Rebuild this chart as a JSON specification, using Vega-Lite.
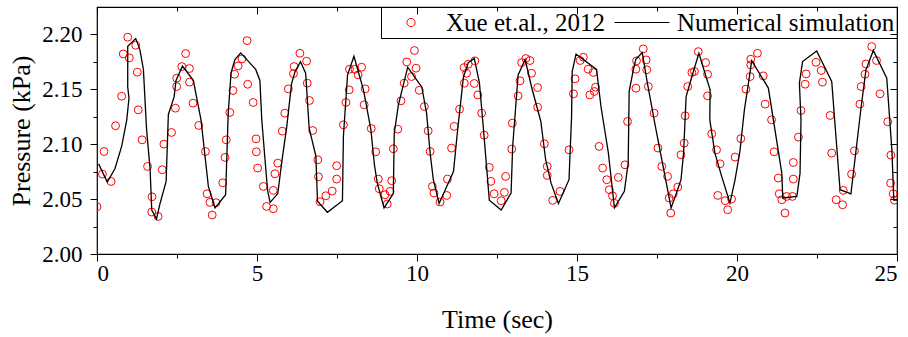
{
  "$schema": "https://vega.github.io/schema/vega-lite/v6.json",
  "autosize": "none",
  "width": 800,
  "height": 247,
  "padding": {"left": 97, "top": 7, "right": 11, "bottom": 83},
  "background": "white",
  "datasets": {
    "exp": [
      {"t":0.0,"p":2.043},{"t":0.17,"p":2.0727},{"t":0.22,"p":2.0933},{"t":0.44,"p":2.066},{"t":0.58,"p":2.1167},{"t":0.77,"p":2.1436},{"t":0.82,"p":2.1821},{"t":0.96,"p":2.1973},{"t":1.01,"p":2.1785},{"t":1.21,"p":2.19},{"t":1.26,"p":2.1655},{"t":1.29,"p":2.1312},{"t":1.41,"p":2.1039},{"t":1.58,"p":2.0797},{"t":1.71,"p":2.0382},{"t":1.72,"p":2.0521},{"t":1.91,"p":2.0342},{"t":2.04,"p":2.0767},{"t":2.09,"p":2.1},{"t":2.33,"p":2.1106},{"t":2.45,"p":2.1327},{"t":2.49,"p":2.1524},{"t":2.49,"p":2.16},{"t":2.65,"p":2.1706},{"t":2.77,"p":2.1824},{"t":2.89,"p":2.1688},{"t":2.89,"p":2.1564},{"t":3.0,"p":2.1373},{"t":3.18,"p":2.117},{"t":3.39,"p":2.0933},{"t":3.44,"p":2.0548},{"t":3.53,"p":2.047},{"t":3.6,"p":2.0355},{"t":3.72,"p":2.0467},{"t":3.93,"p":2.0648},{"t":4.0,"p":2.0879},{"t":4.04,"p":2.1039},{"t":4.15,"p":2.1288},{"t":4.25,"p":2.1488},{"t":4.3,"p":2.1636},{"t":4.41,"p":2.1712},{"t":4.53,"p":2.1776},{"t":4.69,"p":2.1942},{"t":4.71,"p":2.1545},{"t":4.88,"p":2.1379},{"t":4.97,"p":2.1048},{"t":4.98,"p":2.093},{"t":5.02,"p":2.0782},
      {"t":5.2,"p":2.0615},{"t":5.3,"p":2.0433},{"t":5.51,"p":2.0412},{"t":5.51,"p":2.0579},{"t":5.56,"p":2.073},{"t":5.65,"p":2.0827},{"t":5.79,"p":2.1118},{"t":5.87,"p":2.1282},{"t":5.98,"p":2.1503},{"t":6.14,"p":2.1642},{"t":6.16,"p":2.1706},{"t":6.34,"p":2.1827},{"t":6.55,"p":2.1755},{"t":6.57,"p":2.1555},{"t":6.64,"p":2.1397},{"t":6.74,"p":2.1124},{"t":6.9,"p":2.0858},{"t":6.92,"p":2.0703},{"t":6.97,"p":2.0476},{"t":7.15,"p":2.053},{"t":7.35,"p":2.0573},{"t":7.49,"p":2.0682},{"t":7.49,"p":2.0803},{"t":7.7,"p":2.1176},{"t":7.78,"p":2.1379},{"t":7.88,"p":2.1494},{"t":7.89,"p":2.1682},{"t":8.06,"p":2.1682},{"t":8.16,"p":2.163},{"t":8.27,"p":2.17},{"t":8.35,"p":2.1358},{"t":8.38,"p":2.1503},{"t":8.57,"p":2.1142},{"t":8.71,"p":2.093},{"t":8.79,"p":2.0682},{"t":8.82,"p":2.0594},{"t":9.0,"p":2.0539},{"t":9.07,"p":2.0455},{"t":9.16,"p":2.057},{"t":9.21,"p":2.0667},{"t":9.26,"p":2.0958},{"t":9.4,"p":2.1136},{"t":9.5,"p":2.1394},{"t":9.6,"p":2.1555},{"t":9.68,"p":2.1748},{"t":9.83,"p":2.1615},{"t":9.92,"p":2.1852},{"t":9.97,"p":2.1691},{"t":10.07,"p":2.149},
      {"t":10.23,"p":2.1342},{"t":10.35,"p":2.1121},{"t":10.41,"p":2.0933},{"t":10.48,"p":2.0615},{"t":10.53,"p":2.0555},{"t":10.72,"p":2.0473},{"t":10.93,"p":2.0533},{"t":10.95,"p":2.0682},{"t":11.08,"p":2.0964},{"t":11.16,"p":2.1161},{"t":11.33,"p":2.1318},{"t":11.47,"p":2.1697},{"t":11.48,"p":2.1555},{"t":11.55,"p":2.1645},{"t":11.6,"p":2.1727},{"t":11.79,"p":2.1552},{"t":11.81,"p":2.1758},{"t":11.9,"p":2.1448},{"t":12.02,"p":2.1282},{"t":12.1,"p":2.1082},{"t":12.26,"p":2.0788},{"t":12.31,"p":2.0661},{"t":12.41,"p":2.0548},{"t":12.63,"p":2.0485},{"t":12.73,"p":2.0561},{"t":12.77,"p":2.0706},{"t":12.96,"p":2.0955},{"t":12.98,"p":2.1191},{"t":13.16,"p":2.1439},{"t":13.22,"p":2.1576},{"t":13.27,"p":2.1742},{"t":13.4,"p":2.1779},{"t":13.53,"p":2.1761},{"t":13.58,"p":2.1645},{"t":13.77,"p":2.1515},{"t":13.77,"p":2.1336},{"t":13.98,"p":2.1003},{"t":14.07,"p":2.0797},{"t":14.07,"p":2.0715},{"t":14.24,"p":2.0488},{"t":14.47,"p":2.057},{"t":14.75,"p":2.0948},{"t":14.89,"p":2.1458},{"t":14.94,"p":2.1594},
      {"t":15.1,"p":2.1761},{"t":15.2,"p":2.1791},{"t":15.35,"p":2.1682},{"t":15.4,"p":2.1448},{"t":15.51,"p":2.1652},{"t":15.54,"p":2.1479},{"t":15.58,"p":2.1518},{"t":15.69,"p":2.0979},{"t":15.8,"p":2.0782},{"t":15.93,"p":2.0676},{"t":16.01,"p":2.0585},{"t":16.11,"p":2.053},{"t":16.17,"p":2.0461},{"t":16.29,"p":2.0697},{"t":16.5,"p":2.0812},{"t":16.58,"p":2.1206},{"t":16.84,"p":2.1509},{"t":16.84,"p":2.1682},{"t":16.86,"p":2.1758},{"t":17.07,"p":2.1867},{"t":17.16,"p":2.1767},{"t":17.18,"p":2.1676},{"t":17.23,"p":2.1524},{"t":17.41,"p":2.1282},{"t":17.53,"p":2.0964},{"t":17.65,"p":2.0797},{"t":17.83,"p":2.0706},{"t":17.88,"p":2.0509},{"t":17.93,"p":2.0373},{"t":18.01,"p":2.0548},{"t":18.15,"p":2.0609},{"t":18.25,"p":2.0903},{"t":18.35,"p":2.1009},{"t":18.38,"p":2.1258},{"t":18.46,"p":2.1524},{"t":18.59,"p":2.1652},{"t":18.67,"p":2.1661},{"t":18.79,"p":2.1842},{"t":19.02,"p":2.1742},{"t":19.08,"p":2.1636},{"t":19.08,"p":2.1439},{"t":19.21,"p":2.1094},{"t":19.36,"p":2.0948},{"t":19.4,"p":2.0533},{"t":19.47,"p":2.0821},{"t":19.63,"p":2.0485},{"t":19.71,"p":2.0403},{"t":19.83,"p":2.05},{"t":19.94,"p":2.0882},
      {"t":20.12,"p":2.105},{"t":20.28,"p":2.15},{"t":20.41,"p":2.1615},{"t":20.43,"p":2.1721},{"t":20.43,"p":2.1773},{"t":20.64,"p":2.1827},{"t":20.82,"p":2.1621},{"t":20.88,"p":2.1364},{"t":21.08,"p":2.1221},{"t":21.16,"p":2.093},{"t":21.29,"p":2.0691},{"t":21.32,"p":2.0548},{"t":21.4,"p":2.0494},{"t":21.5,"p":2.0373},{"t":21.55,"p":2.0524},{"t":21.73,"p":2.0524},{"t":21.76,"p":2.0682},{"t":21.76,"p":2.0833},{"t":21.92,"p":2.1064},{"t":22.0,"p":2.1306},{"t":22.13,"p":2.1545},{"t":22.16,"p":2.1639},{"t":22.47,"p":2.1745},{"t":22.63,"p":2.167},{"t":22.67,"p":2.1564},{"t":22.91,"p":2.1261},{"t":22.96,"p":2.0918},{"t":23.1,"p":2.0494},{"t":23.3,"p":2.0448},{"t":23.32,"p":2.0579},{"t":23.58,"p":2.0727},{"t":23.67,"p":2.0939},{"t":23.84,"p":2.1364},{"t":23.88,"p":2.1524},{"t":24.0,"p":2.1636},{"t":24.03,"p":2.173},{"t":24.21,"p":2.1888},{"t":24.36,"p":2.1761},{"t":24.47,"p":2.1458},{"t":24.71,"p":2.1203},{"t":24.8,"p":2.0645},{"t":24.81,"p":2.09},{"t":24.88,"p":2.0548},{"t":24.92,"p":2.049}
    ],
    "sim": [
      {"t":0.05,"p":2.082},{"t":0.32,"p":2.0655},{"t":0.56,"p":2.0776},{"t":0.77,"p":2.098},{"t":0.93,"p":2.122},{"t":1.0,"p":2.142},{"t":0.96,"p":2.152},{"t":0.96,"p":2.189},{"t":1.21,"p":2.196},{"t":1.34,"p":2.186},{"t":1.45,"p":2.168},{"t":1.55,"p":2.113},{"t":1.66,"p":2.077},{"t":1.71,"p":2.04},{"t":1.86,"p":2.032},{"t":1.97,"p":2.046},{"t":2.16,"p":2.066},{"t":2.23,"p":2.127},{"t":2.41,"p":2.143},{"t":2.47,"p":2.158},{"t":2.67,"p":2.171},{"t":3.01,"p":2.158},{"t":3.25,"p":2.122},{"t":3.48,"p":2.0615},{"t":3.69,"p":2.042},{"t":4.02,"p":2.054},{"t":4.1,"p":2.128},{"t":4.19,"p":2.165},{"t":4.31,"p":2.177},{"t":4.49,"p":2.183},{"t":4.96,"p":2.168},
      {"t":5.09,"p":2.158},{"t":5.15,"p":2.122},{"t":5.25,"p":2.086},{"t":5.33,"p":2.058},{"t":5.41,"p":2.047},{"t":5.65,"p":2.055},{"t":5.77,"p":2.083},{"t":5.93,"p":2.116},{"t":6.08,"p":2.155},{"t":6.19,"p":2.166},{"t":6.36,"p":2.175},{"t":6.52,"p":2.1645},{"t":6.63,"p":2.1145},{"t":6.84,"p":2.089},{"t":6.89,"p":2.048},{"t":7.2,"p":2.038},{"t":7.67,"p":2.0485},{"t":7.7,"p":2.107},{"t":7.83,"p":2.163},{"t":8.03,"p":2.18},{"t":8.33,"p":2.149},{"t":8.56,"p":2.113},{"t":8.67,"p":2.081},{"t":8.76,"p":2.0645},{"t":8.97,"p":2.042},{"t":9.26,"p":2.055},{"t":9.29,"p":2.11},{"t":9.42,"p":2.136},{"t":9.71,"p":2.17},{"t":10.0,"p":2.158},
      {"t":10.15,"p":2.152},{"t":10.3,"p":2.128},{"t":10.41,"p":2.092},{"t":10.51,"p":2.0676},{"t":10.69,"p":2.046},{"t":10.93,"p":2.0615},{"t":11.14,"p":2.075},{"t":11.27,"p":2.113},{"t":11.45,"p":2.161},{"t":11.6,"p":2.174},{"t":11.79,"p":2.178},{"t":11.95,"p":2.156},{"t":12.07,"p":2.116},{"t":12.26,"p":2.049},{"t":12.63,"p":2.04},{"t":12.94,"p":2.0555},{"t":12.99,"p":2.098},{"t":13.16,"p":2.163},{"t":13.38,"p":2.177},{"t":13.58,"p":2.152},{"t":13.87,"p":2.1206},{"t":14.02,"p":2.0858},{"t":14.19,"p":2.0645},{"t":14.42,"p":2.046},{"t":14.75,"p":2.0676},{"t":14.83,"p":2.125},{"t":14.85,"p":2.166},{"t":14.97,"p":2.182},
      {"t":15.61,"p":2.168},{"t":15.75,"p":2.134},{"t":15.98,"p":2.092},{"t":16.17,"p":2.042},{"t":16.48,"p":2.057},{"t":16.6,"p":2.083},{"t":16.63,"p":2.148},{"t":16.76,"p":2.1676},{"t":16.84,"p":2.1773},{"t":17.04,"p":2.1833},{"t":17.2,"p":2.1555},{"t":17.44,"p":2.1176},{"t":17.65,"p":2.0858},{"t":17.94,"p":2.042},{"t":18.07,"p":2.0524},{"t":18.25,"p":2.0676},{"t":18.33,"p":2.0918},{"t":18.41,"p":2.1433},{"t":18.59,"p":2.1615},{"t":18.81,"p":2.1827},{"t":19.03,"p":2.1615},{"t":19.16,"p":2.1494},{"t":19.15,"p":2.122},{"t":19.31,"p":2.0918},{"t":19.52,"p":2.0706},{"t":19.78,"p":2.0464},{"t":19.94,"p":2.0676},
      {"t":20.09,"p":2.0933},{"t":20.23,"p":2.131},{"t":20.35,"p":2.154},{"t":20.46,"p":2.176},{"t":20.98,"p":2.151},{"t":21.4,"p":2.0736},{"t":21.43,"p":2.051},{"t":21.87,"p":2.0524},{"t":21.97,"p":2.0736},{"t":22.0,"p":2.122},{"t":21.95,"p":2.1555},{"t":22.05,"p":2.1752},{"t":22.49,"p":2.1848},{"t":22.96,"p":2.157},{"t":23.22,"p":2.0585},{"t":23.56,"p":2.0548},{"t":23.88,"p":2.134},{"t":24.03,"p":2.1676},{"t":24.26,"p":2.1852},{"t":24.68,"p":2.16},{"t":24.84,"p":2.0948},{"t":24.9,"p":2.049},{"t":25.0,"p":2.049}
    ]
  },
  "resolve": {"axis": {"x": "independent", "y": "independent"}},
  "layer": [
    {
      "data": {"name": "exp"},
      "mark": {"type": "point", "shape": "circle", "filled": false, "size": 62, "strokeWidth": 1, "opacity": 1, "clip": true},
      "encoding": {
        "x": {"field": "t", "type": "quantitative", "scale": {"domain": [0, 25], "nice": false, "zero": false},
              "axis": {"orient": "bottom", "values": [0, 5, 10, 15, 20, 25], "tickSize": 7, "labelPadding": 1, "labelFont": "Liberation Serif", "labelFontSize": 23, "title": "Time (sec)", "titlePadding": 21}},
        "y": {"field": "p", "type": "quantitative", "scale": {"domain": [2.0, 2.2248], "nice": false, "zero": false},
              "axis": {"orient": "left", "values": [2.0, 2.05, 2.1, 2.15, 2.2], "format": ".2f", "tickSize": 7, "labelPadding": 8, "labelFont": "Liberation Serif", "labelFontSize": 23, "title": "Pressure (kPa)", "titlePadding": 7}},
        "color": {"datum": "Xue et.al., 2012", "type": "nominal",
          "scale": {"domain": ["Xue et.al., 2012", "Numerical simulation"], "range": ["#ff0000", "#000000"]},
          "legend": {
            "orient": "top-right", "direction": "horizontal", "title": null, "offset": 0,
            "symbolType": {"expr": "datum.value === 'Numerical simulation' ? 'stroke' : 'M0.15,0A0.15,0.15,0,1,1,-0.15,0A0.15,0.15,0,1,1,0.15,0Z'"},
            "symbolSize": 3025, "clipHeight": 27, "symbolStrokeWidth": 1, "symbolFillColor": "transparent",
            "labelFont": "Liberation Serif", "labelFontSize": 25, "labelColor": "black", "labelLimit": 400,
            "labelOffset": 7, "columnPadding": 9, "padding": 2, "strokeColor": "black"
          }}
      }
    },
    {
      "data": {"name": "sim"},
      "mark": {"type": "line", "strokeWidth": 1.3, "clip": true},
      "encoding": {
        "x": {"field": "t", "type": "quantitative", "axis": {"orient": "bottom", "values": [2.5, 7.5, 12.5, 17.5, 22.5], "tickSize": 4, "labels": false, "title": null}},
        "y": {"field": "p", "type": "quantitative", "axis": {"orient": "left", "values": [2.025, 2.075, 2.125, 2.175], "tickSize": 4, "labels": false, "title": null}},
        "order": {"value": null},
        "color": {"datum": "Numerical simulation", "type": "nominal"}
      }
    },
    {
      "data": {"name": "sim"},
      "mark": {"type": "line", "strokeOpacity": 0, "clip": true},
      "encoding": {
        "x": {"field": "t", "type": "quantitative", "axis": {"orient": "top", "values": [0, 5, 10, 15, 20, 25], "tickSize": -7, "labels": false, "title": null}},
        "y": {"field": "p", "type": "quantitative", "axis": {"orient": "right", "values": [2.0, 2.05, 2.1, 2.15, 2.2], "tickSize": -7, "labels": false, "title": null}},
        "order": {"value": null}
      }
    },
    {
      "data": {"name": "sim"},
      "mark": {"type": "line", "strokeOpacity": 0, "clip": true},
      "encoding": {
        "x": {"field": "t", "type": "quantitative", "axis": {"orient": "top", "values": [2.5, 7.5, 12.5, 17.5, 22.5], "tickSize": -4, "labels": false, "title": null}},
        "y": {"field": "p", "type": "quantitative", "axis": {"orient": "right", "values": [2.025, 2.075, 2.125, 2.175], "tickSize": -4, "labels": false, "title": null}},
        "order": {"value": null}
      }
    }
  ],
  "config": {
    "view": {"stroke": "#000000", "strokeWidth": 1.2},
    "style": {
      "guide-label": {"font": "Liberation Serif", "fill": "#000000"},
      "guide-title": {"font": "Liberation Serif", "fill": "#000000"}
    },
    "axis": {
      "domain": false, "grid": false, "tickColor": "#000000", "tickWidth": 1,
      "labelFont": "Liberation Serif", "labelFontSize": 23, "labelColor": "#000000",
      "titleFont": "Liberation Serif", "titleFontSize": 26, "titleFontWeight": "normal", "titleColor": "#000000"
    },
    "legend": {"labelFont": "Liberation Serif", "labelFontSize": 25, "labelColor": "#000000"}
  }
}
